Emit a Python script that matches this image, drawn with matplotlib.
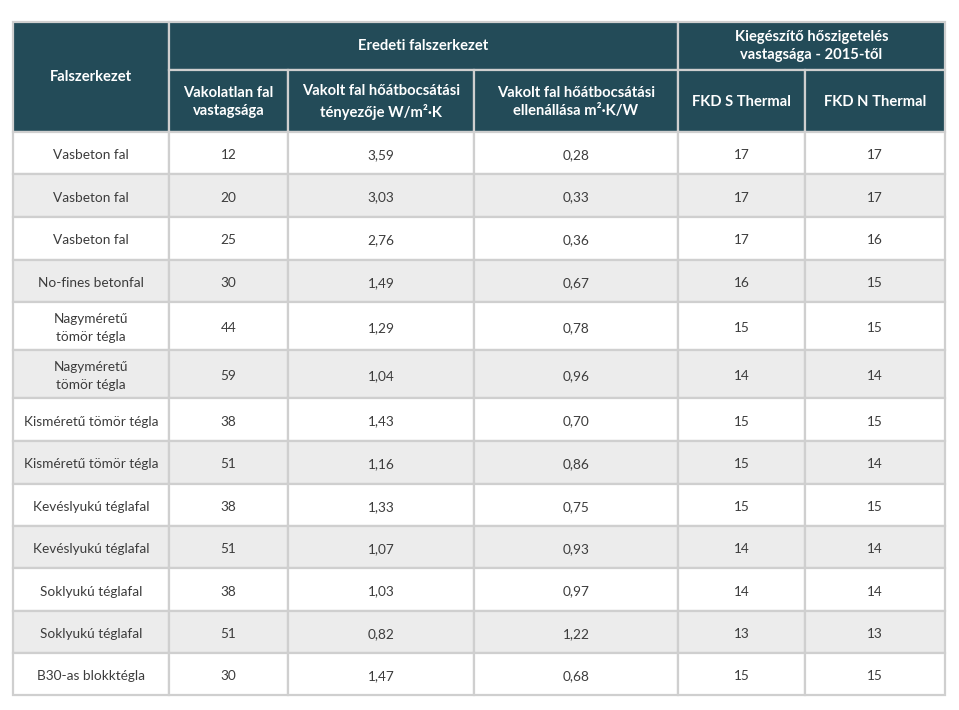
import matplotlib
matplotlib.use("Agg")
import matplotlib.pyplot as plt
from matplotlib.patches import Rectangle

# ---- data ----
walls = ["Vasbeton fal", "Vasbeton fal", "Vasbeton fal", "No-fines betonfal",
         "Nagyméretű\ntömör tégla", "Nagyméretű\ntömör tégla",
         "Kisméretű tömör tégla", "Kisméretű tömör tégla",
         "Kevéslyukú téglafal", "Kevéslyukú téglafal",
         "Soklyukú téglafal", "Soklyukú téglafal", "B30-as blokktégla"]
thickness = ["12", "20", "25", "30", "44", "59", "38", "51", "38", "51", "38", "51", "30"]
u_value = ["3,59", "3,03", "2,76", "1,49", "1,29", "1,04", "1,43", "1,16",
           "1,33", "1,07", "1,03", "0,82", "1,47"]
r_value = ["0,28", "0,33", "0,36", "0,67", "0,78", "0,96", "0,70", "0,86",
           "0,75", "0,93", "0,97", "1,22", "0,68"]
fkd_s = ["17", "17", "17", "16", "15", "14", "15", "15", "15", "14", "14", "13", "15"]
fkd_n = ["17", "17", "16", "15", "15", "14", "15", "14", "15", "14", "14", "13", "15"]

col_header = "Falszerkezet"
group1 = "Eredeti falszerkezet"
group2 = "Kiegészítő hőszigetelés\nvastagsága - 2015-től"
sub_headers = ["Vakolatlan fal\nvastagsága",
               "Vakolt fal hőátbocsátási\ntényezője W/m²·K",
               "Vakolt fal hőátbocsátási\nellenállása m²·K/W",
               "FKD S Thermal", "FKD N Thermal"]

# ---- layout (pixels) ----
W, H = 959, 710
xs = [13, 169, 288, 474, 678, 805, 945]
y_top, y_mid, y_head = 22, 70, 132
row_lines = [132, 174, 217, 260, 302, 350, 398, 441, 484, 526, 568, 611, 653, 695]

header_bg = "#234b58"
grid_c = "#cfcfcf"
alt_bg = "#ececec"
txt_c = "#3c3c3c"
font = "Lato"
hfs = 10.6
bfs = 9.8

fig = plt.figure(figsize=(W / 100, H / 100), dpi=100)
ax = fig.add_axes([0, 0, 1, 1])
ax.set_xlim(0, W)
ax.set_ylim(H, 0)
ax.axis("off")

def rect(x0, y0, x1, y1, fc):
    ax.add_patch(Rectangle((x0, y0), x1 - x0, y1 - y0, facecolor=fc,
                           edgecolor=grid_c, linewidth=1.6))

# header
rect(xs[0], y_top, xs[1], y_head, header_bg)
ax.text((xs[0] + xs[1]) / 2, (y_top + y_head) / 2, col_header, color="white",
        ha="center", va="center", fontsize=hfs, fontweight="bold", family=font)
rect(xs[1], y_top, xs[4], y_mid, header_bg)
ax.text((xs[1] + xs[4]) / 2, (y_top + y_mid) / 2, group1, color="white",
        ha="center", va="center", fontsize=hfs, fontweight="bold", family=font)
rect(xs[4], y_top, xs[6], y_mid, header_bg)
ax.text((xs[4] + xs[6]) / 2, (y_top + y_mid) / 2, group2, color="white",
        ha="center", va="center", fontsize=hfs, fontweight="bold", family=font,
        linespacing=1.4)
for i, h in enumerate(sub_headers):
    rect(xs[i + 1], y_mid, xs[i + 2], y_head, header_bg)
    ax.text((xs[i + 1] + xs[i + 2]) / 2, (y_mid + y_head) / 2 + 1, h, color="white",
            ha="center", va="center", fontsize=hfs, fontweight="bold", family=font,
            linespacing=1.45)

# body
cols = [walls, thickness, u_value, r_value, fkd_s, fkd_n]
for r in range(len(walls)):
    y0, y1 = row_lines[r], row_lines[r + 1]
    fc = "white" if r % 2 == 0 else alt_bg
    for c in range(6):
        rect(xs[c], y0, xs[c + 1], y1, fc)
        ax.text((xs[c] + xs[c + 1]) / 2, (y0 + y1) / 2 + 2, cols[c][r], color=txt_c,
                ha="center", va="center", fontsize=bfs, family=font, linespacing=1.55)

fig.savefig("out.png", dpi=100, facecolor="white")
